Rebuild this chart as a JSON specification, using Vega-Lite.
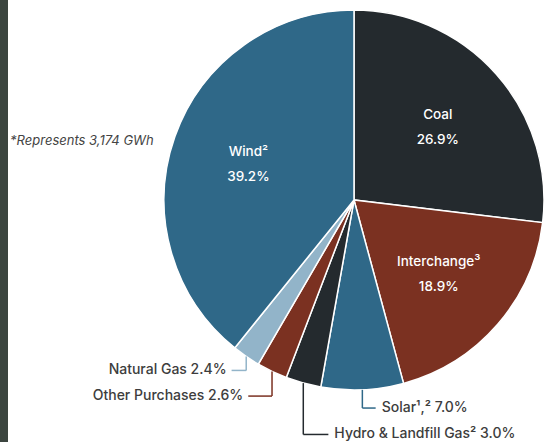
{
  "$schema": "https://vega.github.io/schema/vega-lite/v6.json",
  "background": "white",
  "padding": 0,
  "spacing": 156,
  "bounds": "flush",
  "config": {"view": {"stroke": null}, "text": {"font": "Inter"}},
  "hconcat": [
    {
      "width": 8,
      "height": 442,
      "view": {"fill": "#3c453f", "stroke": null},
      "data": {"values": [{"a": 1}]},
      "mark": {"type": "point", "opacity": 0},
      "encoding": {}
    },
    {
      "width": 380,
      "height": 400,
      "data": {
        "values": [
          {"source": "Coal", "name": "Coal", "pct": 26.9, "order": 1},
          {"source": "Interchange", "name": "Interchange³", "pct": 18.9, "order": 2},
          {"source": "Solar", "name": "Solar¹,²", "pct": 7.0, "order": 3},
          {"source": "Hydro & Landfill Gas", "name": "Hydro & Landfill Gas²", "pct": 3.0, "order": 4},
          {"source": "Other Purchases", "name": "Other Purchases", "pct": 2.6, "order": 5},
          {"source": "Natural Gas", "name": "Natural Gas", "pct": 2.4, "order": 6},
          {"source": "Wind", "name": "Wind²", "pct": 39.2, "order": 7}
        ]
      },
      "transform": [
        {"window": [{"op": "sum", "field": "pct", "as": "cum"}], "sort": [{"field": "order"}], "frame": [null, 0]},
        {"calculate": "datum.cum - datum.pct", "as": "start"},
        {"calculate": "datum.cum - datum.pct / 2", "as": "mid"},
        {"calculate": "sin(datum.mid / 100 * 2 * PI)", "as": "ax"},
        {"calculate": "-cos(datum.mid / 100 * 2 * PI)", "as": "ay"},
        {"calculate": "[0,0,1.095,1.234,1.032,0.897,0][datum.order-1]", "as": "ly"},
        {"calculate": "datum.ax + [0,0,0.07,0.132,-0.125,-0.077,0][datum.order-1]", "as": "hx"},
        {"calculate": "datum.name + ' ' + format(datum.pct, '.1f') + '%'", "as": "label"},
        {"calculate": "datum.name + '\\n' + format(datum.pct, '.1f') + '%'", "as": "inner"}
      ],
      "layer": [
        {
          "mark": {"type": "arc", "outerRadius": 190, "stroke": "white", "strokeWidth": 1.5},
          "encoding": {
            "theta": {"field": "start", "type": "quantitative", "stack": null, "scale": {"domain": [0, 100]}},
            "theta2": {"field": "cum"},
            "color": {
              "field": "source", "type": "nominal", "legend": null,
              "scale": {
                "domain": ["Coal", "Interchange", "Solar", "Hydro & Landfill Gas", "Other Purchases", "Natural Gas", "Wind"],
                "range": ["#242a2e", "#7b3121", "#2f6888", "#242a2e", "#7b3121", "#92b4c9", "#2f6888"]
              }
            }
          }
        },
        {
          "transform": [{"filter": "datum.pct > 10"}],
          "mark": {"type": "text", "radius": 112, "dy": -11, "fill": "white", "fontSize": 13.5, "fontWeight": 500, "lineBreak": "\n", "lineHeight": 25, "align": "center", "baseline": "middle"},
          "encoding": {
            "theta": {"field": "mid", "type": "quantitative", "stack": null, "scale": {"domain": [0, 100]}},
            "text": {"field": "inner"}
          }
        },
        {
          "transform": [{"filter": "datum.pct < 10"}],
          "mark": {"type": "rule", "strokeWidth": 1.5},
          "encoding": {
            "x": {"field": "ax", "type": "quantitative", "axis": null, "scale": {"domain": [-1, 1], "nice": false, "zero": false}},
            "y": {"field": "ay", "type": "quantitative", "axis": null, "scale": {"domain": [-1.05263, 1.05263], "nice": false, "zero": false, "reverse": true}},
            "y2": {"field": "ly"},
            "color": {"field": "source", "type": "nominal", "legend": null}
          }
        },
        {
          "transform": [{"filter": "datum.pct < 10"}],
          "mark": {"type": "rule", "strokeWidth": 1.5},
          "encoding": {
            "x": {"field": "ax", "type": "quantitative"},
            "x2": {"field": "hx"},
            "y": {"field": "ly", "type": "quantitative"},
            "color": {"field": "source", "type": "nominal", "legend": null}
          }
        },
        {
          "transform": [{"filter": "datum.order >= 5 && datum.order <= 6"}],
          "mark": {"type": "text", "align": "right", "baseline": "middle", "dx": -5, "fontSize": 14, "fontWeight": 500, "fill": "#3d3d3d"},
          "encoding": {
            "x": {"field": "hx", "type": "quantitative"},
            "y": {"field": "ly", "type": "quantitative"},
            "text": {"field": "label"}
          }
        },
        {
          "transform": [{"filter": "datum.order >= 3 && datum.order <= 4"}],
          "mark": {"type": "text", "align": "left", "baseline": "middle", "dx": 6, "fontSize": 14, "fontWeight": 500, "fill": "#3d3d3d"},
          "encoding": {
            "x": {"field": "hx", "type": "quantitative"},
            "y": {"field": "ly", "type": "quantitative"},
            "text": {"field": "label"}
          }
        },
        {
          "data": {"values": [{"note": "*Represents 3,174 GWh"}]},
          "mark": {"type": "text", "align": "left", "baseline": "middle", "fontSize": 13, "fontStyle": "italic", "fill": "#444444"},
          "encoding": {
            "x": {"datum": -1.81, "type": "quantitative"},
            "y": {"datum": -0.31, "type": "quantitative"},
            "text": {"field": "note"}
          }
        }
      ]
    }
  ]
}
